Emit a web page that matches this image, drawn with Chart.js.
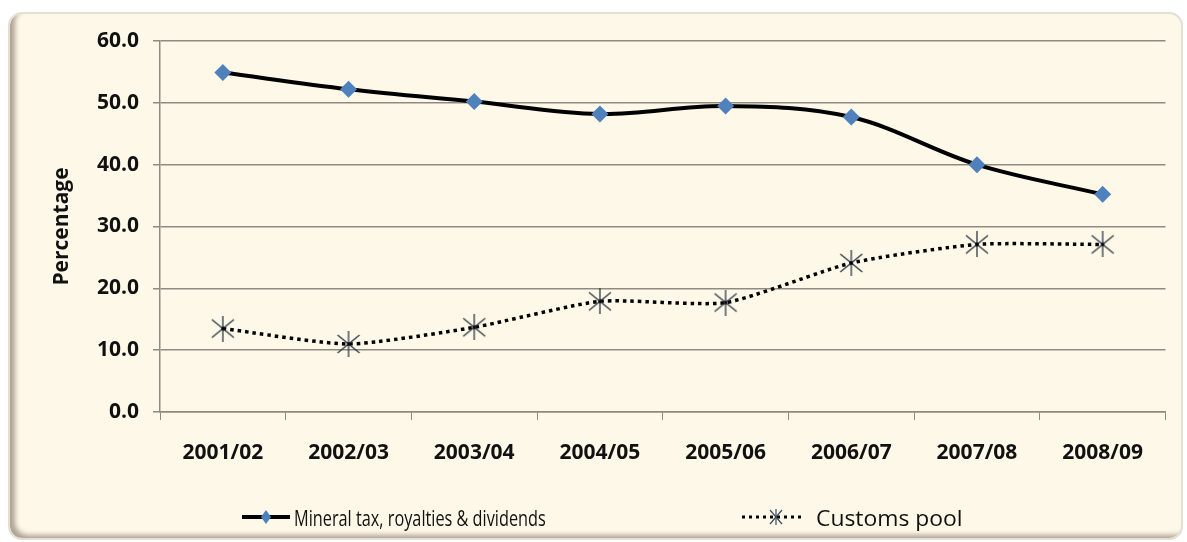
<!DOCTYPE html>
<html>
<head>
<meta charset="utf-8">
<script src="https://cdn.jsdelivr.net/npm/chart.js@4"></script>
<style>
    html, body { margin: 0; padding: 0; background: #ffffff; }
    body { width: 1187px; height: 542px; position: relative; overflow: hidden; }

    /* rounded cream frame with the grey-brown 3D edge */
    #frame {
        position: absolute; left: 8px; top: 12px;
        width: 1171px; height: 524px;
        background: #fdf8e8;
        border: 2px solid #e4dfd3;
        border-radius: 14px;
        box-shadow: inset 6px -4px 5px -1px rgba(125, 105, 95, 0.6);
    }
    #chart-wrap { position: absolute; left: 0; top: 0; width: 1171px; height: 524px; }

    #legend {
        position: absolute; top: 489px; left: 0; width: 100%;
        font-family: "Open Sans", sans-serif;
        font-size: 22px; color: #111;
    }
    .leg-item { position: absolute; top: 0; display: flex; align-items: center; height: 28px; }
    .leg-item svg { margin-right: 4px; }
    /* the original legend face is a narrow one, squeeze Open Sans to match */
    .leg-item span { display: inline-block; transform-origin: left center; }
    #leg-mineral span { transform: scaleX(0.74); }
    #leg-customs span { transform: scaleX(1.04); }
</style>
</head>
<body>
<div id="frame">
    <div id="chart-wrap"><canvas id="chart" width="1171" height="524"></canvas></div>
    <div id="legend">
        <div class="leg-item" id="leg-mineral" style="left:232px">
            <svg width="48" height="20">
                <line x1="0" y1="10" x2="48" y2="10" stroke="#000" stroke-width="4"/>
                <polygon points="24,3 29,10 24,17 19,10" fill="#4f81bd"/>
            </svg>
            <span>Mineral tax, royalties &amp; dividends</span>
        </div>
        <div class="leg-item" id="leg-customs" style="left:732px">
            <svg width="60" height="20">
                <line x1="0" y1="10" x2="60" y2="10" stroke="#000" stroke-width="3" stroke-dasharray="3 4"/>
                <line x1="28" y1="3" x2="40" y2="17" stroke="#3a4a60" stroke-width="1.2"/>
                <line x1="40" y1="3" x2="28" y2="17" stroke="#3a4a60" stroke-width="1.2"/>
                <line x1="34" y1="2" x2="34" y2="18" stroke="#3a4a60" stroke-width="1.2"/>
            </svg>
            <span style="margin-left:10px">Customs pool</span>
        </div>
    </div>
</div>

<script>
// ── Data ─────────────────────────────────────────────────────────────────────

const years    = ["2001/02", "2002/03", "2003/04", "2004/05", "2005/06", "2006/07", "2007/08", "2008/09"];
const mineral  = [54.9, 52.2, 50.2, 48.2, 49.5, 47.7, 40.0, 35.2];
const customs  = [13.5, 11.0, 13.7, 17.9, 17.7, 24.1, 27.1, 27.1];
const yTicks   = [0, 10, 20, 30, 40, 50, 60];

// ── Star marker (X with a vertical bar, like the Excel one) ───────────────────

function starMarker() {
    const c = document.createElement("canvas");
    c.width = 26; c.height = 26;
    const g = c.getContext("2d");
    g.strokeStyle = "#2e3846";
    g.lineWidth = 1.3;
    g.beginPath();
    g.moveTo(2, 4);  g.lineTo(24, 22);
    g.moveTo(24, 4); g.lineTo(2, 22);
    g.moveTo(13, 0); g.lineTo(13, 26);
    g.stroke();
    g.fillStyle = "#000";
    g.fillRect(11.5, 11.5, 3, 3);
    return c;
}

// ── Chart ────────────────────────────────────────────────────────────────────

const gridGrey = "#8f8b82";
const tickFont = { family: "Open Sans", size: 21, weight: "bold" };

new Chart(document.getElementById("chart").getContext("2d"), {
    type: "line",
    data: {
        labels: years,
        datasets: [
            {
                label:           "Mineral tax, royalties & dividends",
                data:            mineral,
                borderColor:     "#000000",
                borderWidth:     4,
                tension:         0.35,
                pointStyle:      "rectRot",
                pointRadius:     8.5,
                pointBorderWidth: 0,
                pointBackgroundColor: "#4f81bd",
                pointBorderColor:     "#4f81bd",
            },
            {
                label:           "Customs pool",
                data:            customs,
                borderColor:     "#000000",
                borderWidth:     3.5,
                borderDash:      [3.5, 4],
                tension:         0.2,
                pointStyle:      starMarker(),
                pointRadius:     12,
            },
        ],
    },
    options: {
        responsive: false,
        animation:  false,
        layout: { padding: { top: 27, right: 9, left: 0, bottom: 0 } },
        plugins: {
            legend:  { display: false },
            tooltip: { enabled: false },
        },
        scales: {
            x: {
                offset: true,
                grid: {
                    offset: true,
                    drawOnChartArea: false,
                    drawTicks: true,
                    tickLength: 8,
                    color: gridGrey,
                },
                border: { color: gridGrey, width: 1.5 },
                ticks: { font: tickFont, color: "#111", padding: 20, maxRotation: 0 },
                afterFit: s => { s.height = 126; },
            },
            y: {
                min: 0,
                max: 60,
                afterBuildTicks: s => { s.ticks = yTicks.map(v => ({ value: v })); },
                grid: { color: gridGrey, lineWidth: 1.5, tickLength: 7 },
                border: { color: gridGrey, width: 1.5 },
                ticks: {
                    font: tickFont, color: "#111", padding: 14,
                    callback: v => v.toFixed(1),
                },
                title: {
                    display: true,
                    text: "Percentage",
                    font: { family: "Open Sans", size: 21, weight: "bold" },
                    color: "#111",
                    padding: { top: 39, bottom: 0 },
                },
                afterFit: s => { s.width = 150; },
            },
        },
    },
});
</script>
</body>
</html>
